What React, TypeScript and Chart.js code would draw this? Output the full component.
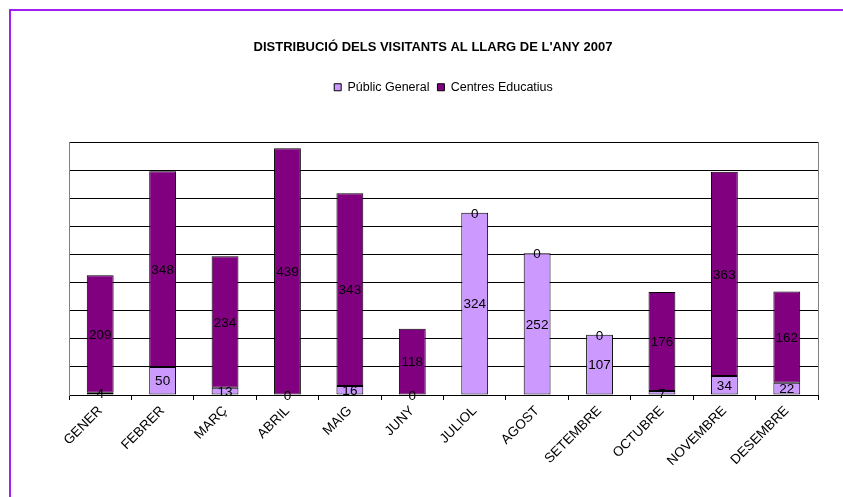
import React, { useEffect, useRef } from "react";
import { Chart, registerables } from "chart.js";

Chart.register(...registerables);

const months = ["GENER", "FEBRER", "MARÇ", "ABRIL", "MAIG", "JUNY", "JULIOL", "AGOST", "SETEMBRE", "OCTUBRE", "NOVEMBRE", "DESEMBRE"];
const publicGeneral = [4, 50, 13, 0, 16, 0, 324, 252, 107, 7, 34, 22];
const centresEducatius = [209, 348, 234, 439, 343, 118, 0, 0, 0, 176, 363, 162];
const seriesNames = ["Públic General", "Centres Educatius"];
const chartTitle = "DISTRIBUCIÓ DELS VISITANTS AL LLARG DE L'ANY 2007";
const yMin = 0;
const yMax = 450;
const yStep = 50;

const FONT = "'Liberation Sans', Arial, Helvetica, sans-serif";

const framePlugin = {
  id: "framePlugin",
  afterDraw(chart: any) {
    const ctx = chart.ctx;
    const a = chart.chartArea;
    ctx.save();
    ctx.strokeStyle = "#808080";
    ctx.lineWidth = 1;
    ctx.beginPath();
    ctx.moveTo(Math.round(a.right) + 0.5, a.top);
    ctx.lineTo(Math.round(a.right) + 0.5, a.bottom);
    ctx.stroke();
    ctx.strokeStyle = "#A020F0";
    ctx.lineWidth = 2;
    ctx.beginPath();
    ctx.moveTo(9, 10);
    ctx.lineTo(chart.width, 10);
    ctx.moveTo(10, 9);
    ctx.lineTo(10, chart.height);
    ctx.stroke();
    ctx.restore();
  },
};

const valueLabelPlugin = {
  id: "valueLabelPlugin",
  afterDatasetsDraw(chart: any) {
    const ctx = chart.ctx;
    ctx.save();
    ctx.font = `13.5px ${FONT}`;
    ctx.fillStyle = "#000";
    ctx.textAlign = "center";
    ctx.textBaseline = "middle";
    chart.data.datasets.forEach((ds: any, i: number) => {
      const meta = chart.getDatasetMeta(i);
      meta.data.forEach((bar: any, j: number) => {
        const p = bar.getProps(["x", "y", "base"], true);
        ctx.fillText(String(ds.data[j]), p.x, (p.y + p.base) / 2 + 1);
      });
    });
    ctx.restore();
  },
};

export default function App() {
  const canvasRef = useRef<HTMLCanvasElement | null>(null);

  useEffect(() => {
    if (!canvasRef.current) return;
    Chart.defaults.font.family = FONT;
    Chart.defaults.color = "#000";
    const chart = new Chart(canvasRef.current, {
      type: "bar",
      data: {
        labels: months,
        datasets: [
          {
            label: seriesNames[0],
            data: publicGeneral,
            backgroundColor: "#CC99FF",
            borderColor: "#000000",
            borderWidth: 1,
            borderSkipped: false,
            stack: "s",
            barPercentage: 0.43,
            categoryPercentage: 1,
          },
          {
            label: seriesNames[1],
            data: centresEducatius,
            backgroundColor: "#800080",
            borderColor: "#000000",
            borderWidth: 1,
            borderSkipped: false,
            stack: "s",
            barPercentage: 0.43,
            categoryPercentage: 1,
          },
        ],
      },
      options: {
        responsive: false,
        animation: false,
        devicePixelRatio: 1,
        layout: { padding: { top: 40, left: 48, right: 25, bottom: 0 } },
        plugins: {
          title: {
            display: true,
            text: chartTitle,
            color: "#000",
            font: { family: FONT, size: 13, weight: "bold" },
            padding: { top: 0, bottom: 17.4 },
          },
          legend: {
            display: true,
            position: "top",
            fullSize: false,
            labels: {
              color: "#000",
              font: { family: FONT, size: 12.5 },
              boxWidth: 7,
              boxHeight: 7,
              padding: 8,
            },
          },
          tooltip: { enabled: false },
        },
        scales: {
          x: {
            stacked: true,
            offset: true,
            grid: {
              display: true,
              drawOnChartArea: false,
              color: "#000",
              tickLength: 5,
              offset: true,
            },
            border: { display: true, color: "#000", width: 1 },
            ticks: {
              color: "#000",
              font: { family: FONT, size: 13.5 },
              minRotation: 45,
              maxRotation: 45,
              autoSkip: false,
            },
            afterFit: (s: any) => {
              s.height = 102;
            },
          },
          xTop: {
            type: "category",
            position: "top",
            display: true,
            grid: { display: false },
            border: { display: false },
            ticks: { display: false },
            afterFit: (s: any) => {
              s.height = 38.5;
            },
          },
          y: {
            stacked: true,
            min: yMin,
            max: yMax,
            ticks: { display: false, stepSize: yStep },
            grid: { color: "#000", lineWidth: 1, drawTicks: false },
            border: { display: true, color: "#808080", width: 1 },
            afterFit: (s: any) => {
              s.width = 21;
            },
          },
        },
      } as any,
      plugins: [valueLabelPlugin, framePlugin],
    });
    return () => chart.destroy();
  }, []);

  return (
    <div style={{ position: "fixed", left: 0, top: 0, width: 843, height: 497, background: "#fff" }}>
      <canvas ref={canvasRef} width={843} height={497} style={{ display: "block" }} />
    </div>
  );
}
